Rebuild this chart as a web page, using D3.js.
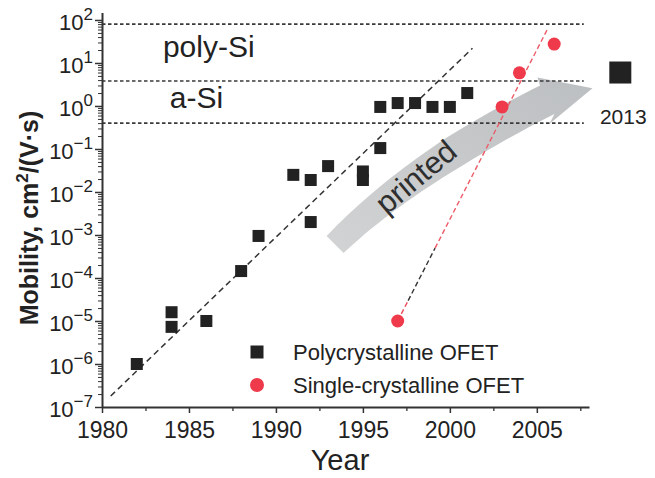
<!DOCTYPE html>
<html>
<head>
<meta charset="utf-8">
<script src="https://cdn.jsdelivr.net/npm/d3@7"></script>
<style>
  body { margin: 0; background: #fff; }
  svg { font-family: "Liberation Sans", Arial, sans-serif; }
</style>
</head>
<body>
<svg id="chart" width="655" height="478"></svg>
<script>
// --- data ---
const polyYear = [1982, 1984, 1984, 1986, 1988, 1989, 1991, 1992, 1992, 1993, 1995, 1995, 1996, 1996, 1997, 1998, 1999, 2000, 2001];
const polyMobility = [1e-6, 1.6e-5, 7.3e-6, 1e-5, 1.45e-4, 9.5e-4, 0.025, 0.019, 0.002, 0.04, 0.03, 0.019, 0.105, 0.95, 1.17, 1.17, 0.95, 0.95, 2.0];
const singleYear = [1997, 2003, 2004, 2006];
const singleMobility = [1e-5, 0.95, 5.9, 27.5];

const refLevels = [80, 3.8, 0.4];          // poly-Si / a-Si bounds
const refNames = ["poly-Si", "a-Si"];

const polyFit = [[1980.5, 1.8e-7], [2001.3, 22]];
const singleFit = [[1997, 1e-5], [2005.6, 60]];

const latestLabel = "2013";
const latestYear = 2009.8;   // drawn just right of the axis
const latestMobility = 6;

// printed arrow (data coords: tail, control, head base, tip)
const arrowPts = [[1993.4, 6e-4], [1997.8, 0.036], [2005.6, 1.4], [2008.2, 2.6]];

const xMajor = [1980, 1985, 1990, 1995, 2000, 2005];
const xMinor = [1982.5, 1987.5, 1992.5, 1997.5, 2002.5, 2007.5];
const yMajorExp = [-7, -6, -5, -4, -3, -2, -1, 0, 1, 2];

const legendNames = ["Polycrystalline OFET", "Single-crystalline OFET"];

// --- scales ---
const svg = d3.select("#chart");
const x = d3.scaleLinear().domain([1980, 2008]).range([102, 589]);
const y = d3.scaleLog().domain([1e-7, 150]).range([407, 12.4]);

const red = "#ef3a4b";
const dark = "#222";

// --- arrow "printed" ---
const defs = svg.append("defs");
const grad = defs.append("linearGradient").attr("id", "arrowGrad")
  .attr("x1", "0%").attr("y1", "100%").attr("x2", "100%").attr("y2", "0%");
grad.append("stop").attr("offset", "0%").attr("stop-color", "#d2d3d4");
grad.append("stop").attr("offset", "100%").attr("stop-color", "#bcbfc1");

(function drawArrow() {
  const P = arrowPts.map(d => [x(d[0]), y(d[1])]);
  const [p0, c, p1, tip] = P;
  const hw0 = 12, hw1 = 16, headHw = 24;
  const left = [], right = [];
  const n = 30;
  for (let i = 0; i <= n; i++) {
    const t = i / n;
    const px = (1 - t) * (1 - t) * p0[0] + 2 * (1 - t) * t * c[0] + t * t * p1[0];
    const py = (1 - t) * (1 - t) * p0[1] + 2 * (1 - t) * t * c[1] + t * t * p1[1];
    const dx = 2 * (1 - t) * (c[0] - p0[0]) + 2 * t * (p1[0] - c[0]);
    const dy = 2 * (1 - t) * (c[1] - p0[1]) + 2 * t * (p1[1] - c[1]);
    const L = Math.hypot(dx, dy);
    const nx = -dy / L, ny = dx / L;
    const hw = hw0 + (hw1 - hw0) * Math.min(1, t * 1.6);
    left.push([px + nx * hw, py + ny * hw]);
    right.push([px - nx * hw, py - ny * hw]);
  }
  const hdx = tip[0] - p1[0], hdy = tip[1] - p1[1];
  const HL = Math.hypot(hdx, hdy);
  const hnx = -hdy / HL, hny = hdx / HL;
  const barbL = [p1[0] + hnx * headHw - 4 * hdx / HL, p1[1] + hny * headHw - 4 * hdy / HL];
  const barbR = [p1[0] - hnx * headHw - 4 * hdx / HL, p1[1] - hny * headHw - 4 * hdy / HL];
  const pts = left.concat([barbL, tip, barbR]).concat(right.reverse());
  svg.append("path")
    .attr("d", d3.line()(pts) + "Z")
    .attr("fill", "url(#arrowGrad)");
})();

// --- reference levels ---
svg.selectAll("line.ref")
  .data(refLevels)
  .enter().append("line")
    .attr("class", "ref")
    .attr("x1", x(1980)).attr("x2", x(2007.7))
    .attr("y1", d => y(d)).attr("y2", d => y(d))
    .attr("stroke", "#3a3a3a").attr("stroke-width", 1.6)
    .attr("stroke-dasharray", "3.5,2.5");

svg.selectAll("text.refname")
  .data(refNames)
  .enter().append("text")
    .attr("class", "refname")
    .attr("x", (d, i) => i === 0 ? x(1983.5) : x(1983.9))
    .attr("y", (d, i) => y(refLevels[i]) + (i === 0 ? 33 : 27))
    .attr("font-size", 30)
    .attr("fill", dark)
    .text(d => d);

// --- trend lines ---
svg.append("line")
  .attr("x1", x(polyFit[0][0])).attr("y1", y(polyFit[0][1]))
  .attr("x2", x(polyFit[1][0])).attr("y2", y(polyFit[1][1]))
  .attr("stroke", "#333").attr("stroke-width", 1.5)
  .attr("stroke-dasharray", "6,4");

// single-crystal fit: red, with a darker stretch just above the 1997 point
const sx0 = x(singleFit[0][0]), sy0 = y(singleFit[0][1]);
const sx1 = x(singleFit[1][0]), sy1 = y(singleFit[1][1]);
const fitParts = [[0, 0.07, "#ec4a58"], [0.07, 0.25, "#333"], [0.25, 1, "#ec5c68"]];
svg.selectAll("line.sfit")
  .data(fitParts)
  .enter().append("line")
    .attr("class", "sfit")
    .attr("x1", d => sx0 + (sx1 - sx0) * d[0]).attr("y1", d => sy0 + (sy1 - sy0) * d[0])
    .attr("x2", d => sx0 + (sx1 - sx0) * d[1]).attr("y2", d => sy0 + (sy1 - sy0) * d[1])
    .attr("stroke", d => d[2]).attr("stroke-width", 1.4)
    .attr("stroke-dasharray", "5,3");

// --- "printed" label ---
svg.append("text")
  .attr("transform", `translate(416,177) rotate(-40)`)
  .attr("text-anchor", "middle")
  .attr("dominant-baseline", "central")
  .attr("font-size", 31)
  .attr("fill", "#2e2e2e")
  .text("printed");

// --- axes ---
const xAxis = svg.append("g")
  .attr("transform", `translate(0,${y(1e-7)})`)
  .call(d3.axisBottom(x).tickValues(xMajor).tickSize(6).tickSizeOuter(0)
    .tickPadding(9).tickFormat(d3.format("d")));
xAxis.select(".domain").attr("stroke", "#333").attr("stroke-width", 2);
xAxis.selectAll(".tick line").attr("stroke", "#333").attr("stroke-width", 1.5);
xAxis.selectAll(".tick text").attr("font-size", 23).attr("fill", dark)
  .attr("font-family", "Liberation Sans, Arial, sans-serif");

const xMin = svg.append("g")
  .attr("transform", `translate(0,${y(1e-7)})`)
  .call(d3.axisBottom(x).tickValues(xMinor).tickSize(4).tickFormat(""));
xMin.select(".domain").remove();
xMin.selectAll(".tick line").attr("stroke", "#333").attr("stroke-width", 1.3);

const yMinor = [];
yMajorExp.forEach(e => {
  for (let k = 2; k <= 9; k++) {
    const v = k * Math.pow(10, e);
    if (v <= 150) yMinor.push(v);
  }
});

const yAxis = svg.append("g")
  .attr("transform", `translate(${x(1980)},0)`)
  .call(d3.axisLeft(y).tickValues(yMajorExp.map(e => Math.pow(10, e)))
    .tickSize(7).tickSizeOuter(0).tickFormat(""));
yAxis.select(".domain").attr("stroke", "#333").attr("stroke-width", 2);
yAxis.selectAll(".tick line").attr("stroke", "#333").attr("stroke-width", 1.5);

const yMin = svg.append("g")
  .attr("transform", `translate(${x(1980)},0)`)
  .call(d3.axisLeft(y).tickValues(yMinor).tickSize(4).tickFormat(""));
yMin.select(".domain").remove();
yMin.selectAll(".tick line").attr("stroke", "#333").attr("stroke-width", 1);

// y tick labels 10^n
const yl = svg.selectAll("text.ylab")
  .data(yMajorExp)
  .enter().append("text")
    .attr("class", "ylab")
    .attr("x", x(1980) - 9)
    .attr("y", d => y(Math.pow(10, d)) + 10)
    .attr("text-anchor", "end")
    .attr("fill", dark);
yl.append("tspan").attr("font-size", 22).text("10");
yl.append("tspan").attr("font-size", 17).attr("dy", -10)
  .text(d => d < 0 ? "\u2212" + Math.abs(d) : String(d));

// axis titles
svg.append("text")
  .attr("x", 340).attr("y", 470)
  .attr("text-anchor", "middle")
  .attr("font-size", 29)
  .attr("fill", dark)
  .text("Year");

const yt = svg.append("text")
  .attr("transform", "translate(38,218) rotate(-90)")
  .attr("text-anchor", "middle")
  .attr("font-size", 25)
  .attr("font-weight", "bold")
  .attr("fill", dark);
yt.append("tspan").text("Mobility, cm");
yt.append("tspan").attr("font-size", 17).attr("dy", -10).text("2");
yt.append("tspan").attr("dy", 10).text("/(V\u00b7s)");

// --- data marks ---
const sq = 12;
svg.selectAll("rect.poly")
  .data(polyYear.map((d, i) => [d, polyMobility[i]]))
  .enter().append("rect")
    .attr("class", "poly")
    .attr("x", d => x(d[0]) - sq / 2)
    .attr("y", d => y(d[1]) - sq / 2)
    .attr("width", sq).attr("height", sq)
    .attr("fill", dark);

svg.selectAll("circle.single")
  .data(singleYear.map((d, i) => [d, singleMobility[i]]))
  .enter().append("circle")
    .attr("class", "single")
    .attr("cx", d => x(d[0]))
    .attr("cy", d => y(d[1]))
    .attr("r", 6.5)
    .attr("fill", red);

// 2013 marker
const big = 22;
svg.append("rect")
  .attr("x", x(latestYear) - big / 2)
  .attr("y", y(latestMobility) - big / 2)
  .attr("width", big).attr("height", big)
  .attr("fill", dark);
svg.append("text")
  .attr("x", x(latestYear) + 3)
  .attr("y", y(latestMobility) + 51)
  .attr("text-anchor", "middle")
  .attr("font-size", 21)
  .attr("fill", dark)
  .text(latestLabel);

// --- legend ---
const lg = svg.append("g").attr("transform", "translate(257,352)");
lg.append("rect").attr("x", -6.5).attr("y", -6.5).attr("width", 13).attr("height", 13).attr("fill", dark);
lg.append("circle").attr("cx", 0).attr("cy", 33).attr("r", 7).attr("fill", red);
lg.selectAll("text")
  .data(legendNames)
  .enter().append("text")
    .attr("x", 36)
    .attr("y", (d, i) => 8 + i * 33)
    .attr("font-size", 22)
    .attr("fill", dark)
    .text(d => d);
</script>
</body>
</html>
